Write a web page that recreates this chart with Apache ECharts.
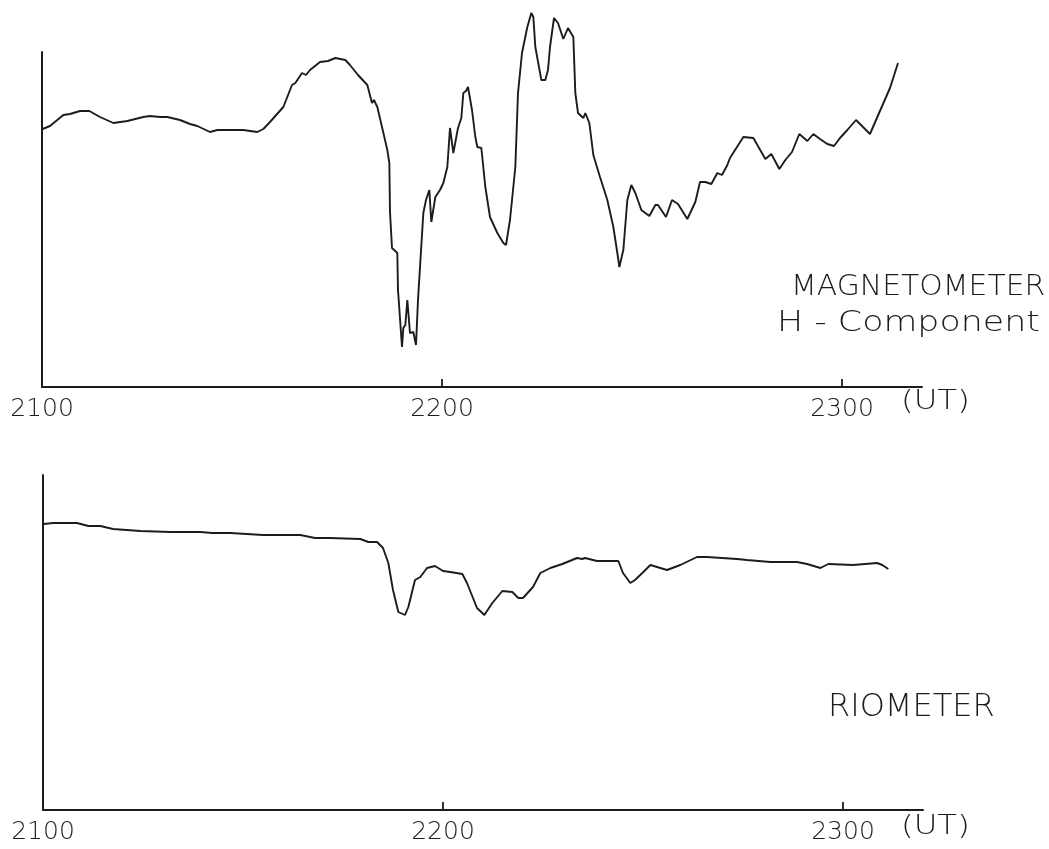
<!DOCTYPE html>
<html>
<head>
<meta charset="utf-8">
<script src="https://cdn.jsdelivr.net/npm/echarts@6/dist/echarts.min.js"></script>
<style>html,body{margin:0;padding:0;background:#fff}#c{width:1049px;height:849px}</style>
</head>
<body>
<div id="c"></div>
<script>
// Time in minutes after 2100 UT
const magT = [0.1,1.2,3.2,4.2,5.7,7.1,8.7,10.7,12.8,15.2,16.2,17.7,18.8,20.7,22.2,23.3,25.2,26.3,30.2,32.3,33.2,34.2,36.2,37.5,38.0,39.0,39.6,40.2,41.7,42.9,44.0,45.5,46.2,47.4,48.8,49.5,49.8,50.3,51.0,51.8,52.1,52.2,52.5,53.3,53.4,54.0,54.2,54.5,54.8,54.9,55.2,55.7,56.1,56.4,57.2,57.6,58.1,58.4,59.0,59.7,60.2,60.8,61.2,61.7,62.4,62.9,63.2,63.6,63.9,64.5,65.0,65.3,65.9,66.5,67.2,68.3,69.2,69.6,70.2,71.0,71.4,72.0,72.8,73.4,73.7,74.0,74.9,75.5,75.9,76.2,76.8,77.4,78.2,78.9,79.7,80.0,80.4,81.2,81.5,82.1,82.7,83.7,84.8,85.7,86.3,86.6,87.2,87.8,88.4,89.0,89.9,90.2,91.1,92.0,92.4,93.6,94.5,95.4,96.8,98.0,98.7,99.5,100.4,101.3,102.0,102.8,103.2,105.2,106.7,108.5,109.4,110.6,111.5,112.5,113.6,114.8,115.7,116.7,117.8,118.8,119.7,120.8,122.1,123.0,124.2,125.3,127.2,128.4];
const magV = [258,261,272,273,276,276,270,264,266,270,271,270,270,267,263,261,255,257,257,255,258,265,280,302,304,314,312,317,325,326,329,327,322,312,302,284,287,280,260,237,224,175,139,134,97,40,59,62,87,87,54,55,42,87,174,187,197,165,190,197,204,220,259,234,259,269,294,296,300,277,250,240,239,200,170,154,144,142,167,220,294,334,360,374,370,340,307,307,317,340,369,364,348,359,350,294,274,269,274,264,232,210,187,160,134,120,137,187,202,194,177,179,171,182,182,170,187,183,168,185,205,205,203,214,212,222,229,250,249,228,233,218,227,235,253,246,253,248,243,241,249,257,267,261,253,270,299,324];
const rioT = [0.15,1.5,5.1,6.8,8.6,10.5,14.6,19.1,23.6,25.4,28.1,33.0,38.6,40.8,43.1,47.6,48.8,50.1,51.0,51.8,52.5,53.3,54.3,54.8,55.8,56.6,57.6,58.8,60.0,61.1,62.9,63.6,65.1,66.2,67.4,68.9,70.4,71.3,72.0,73.5,74.6,76.1,77.9,80.1,80.9,81.3,83.1,86.3,87.0,88.1,88.8,89.9,91.1,93.6,95.6,98.1,99.6,104.1,105.6,109.1,113.1,114.6,116.6,117.8,121.5,125.1,125.9,126.8];
const rioV = [286,287,287,284,284,281,279,278,278,277,277,275,275,272,272,271,268,268,262,247,220,198,195,203,230,233,242,244,239,238,236,227,202,195,207,219,218,212,212,223,237,242,246,252,251,252,249,249,237,227,230,237,245,240,245,253,253,251,250,248,248,246,242,246,245,247,245,241];
const tickMinutes = [0, 60, 120];
const tickLabels = ['2100', '2200', '2300'];
const magTitle = ['MAGNETOMETER', 'H - Component'];
const rioTitle = 'RIOMETER';
const unitLabel = '(UT)';

const ink = '#1c1c1c';
const font = '"DejaVu Sans", sans-serif';
function pairs(t, v) { return t.map((x, i) => [x, v[i]]); }

const xAxisBase = (gi) => ({
  type: 'value', gridIndex: gi, min: 0, max: 132,
  axisLine: { show: true, onZero: false, lineStyle: { color: ink, width: 2 } },
  axisTick: { show: false },
  axisLabel: { show: true, customValues: tickMinutes, margin: 10,
    formatter: (v) => tickLabels[tickMinutes.indexOf(v)] || '',
    color: ink, fontFamily: font, fontWeight: 200, fontSize: 25 },
  splitLine: { show: false }
});
const yAxisBase = (gi) => ({
  type: 'value', gridIndex: gi, min: 0, max: 335,
  axisLine: { show: true, onZero: false, lineStyle: { color: ink, width: 2 } },
  axisTick: { show: false }, axisLabel: { show: false }, splitLine: { show: false }
});
const lineSeries = (gi, data, w) => ({
  type: 'line', xAxisIndex: gi, yAxisIndex: gi, data, showSymbol: false, clip: false,
  lineStyle: { color: ink, width: w || 1.9 }, silent: true, animation: false
});
// short upward tick marks on the time axis at 2200 and 2300
const tickSeriesList = [];
[0, 1].forEach((gi) => tickMinutes.slice(1).forEach((m) => {
  tickSeriesList.push(lineSeries(gi, [[m, 0], [m, 8]], 1.8));
}));
const txt = (x, y, text, size, sx) => ({
  type: 'text', x, y, scaleX: sx || 1, silent: true,
  style: { text, fill: ink, font: '200 ' + size + 'px ' + font, textVerticalAlign: 'top' }
});

const chart = echarts.init(document.getElementById('c'), null, { renderer: 'canvas' });
chart.setOption({
  backgroundColor: '#ffffff',
  animation: false,
  grid: [
    { left: 42, top: 52, right: 127, bottom: 462 },
    { left: 43, top: 475, right: 126, bottom: 39 }
  ],
  xAxis: [xAxisBase(0), xAxisBase(1)],
  yAxis: [yAxisBase(0), yAxisBase(1)],
  series: [
    lineSeries(0, pairs(magT, magV)), lineSeries(1, pairs(rioT, rioV))
  ].concat(tickSeriesList),
  graphic: [
    txt(901, 388, unitLabel, 27, 1.2),
    txt(901, 813, unitLabel, 27, 1.2),
    txt(791, 273, magTitle[0], 29, 1.03),
    txt(777, 309, magTitle[1], 29, 1.2),
    txt(828, 692, rioTitle, 32, 1.0)
  ]
});
</script>
</body>
</html>
